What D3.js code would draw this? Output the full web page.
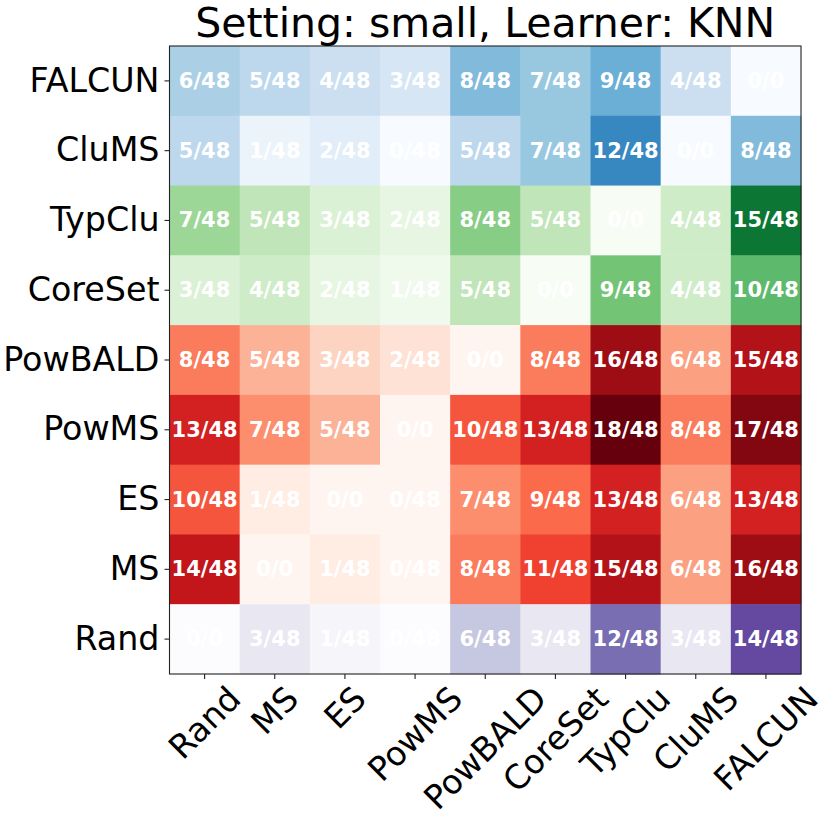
<!DOCTYPE html>
<html>
<head>
<meta charset="utf-8">
<script src="https://cdn.jsdelivr.net/npm/d3@7"></script>
<style>
  html, body { margin: 0; padding: 0; background: #fff; }
  svg { display: block; }
</style>
</head>
<body>
<svg id="chart" width="830" height="821"></svg>
<script>
// ---- data ----
const title = "Setting: small, Learner: KNN";
const rowLabels = ["FALCUN", "CluMS", "TypClu", "CoreSet", "PowBALD", "PowMS", "ES", "MS", "Rand"];
const colLabels = ["Rand", "MS", "ES", "PowMS", "PowBALD", "CoreSet", "TypClu", "CluMS", "FALCUN"];
const rowColormaps = ["Blues", "Blues", "Greens", "Greens", "Reds", "Reds", "Reds", "Reds", "Purples"];
const wins = [
  [6, 5, 4, 3, 8, 7, 9, 4, 0],
  [5, 1, 2, 0, 5, 7, 12, 0, 8],
  [7, 5, 3, 2, 8, 5, 0, 4, 15],
  [3, 4, 2, 1, 5, 0, 9, 4, 10],
  [8, 5, 3, 2, 0, 8, 16, 6, 15],
  [13, 7, 5, 0, 10, 13, 18, 8, 17],
  [10, 1, 0, 0, 7, 9, 13, 6, 13],
  [14, 0, 1, 0, 8, 11, 15, 6, 16],
  [0, 3, 1, 0, 6, 3, 12, 3, 14]
];
const totals = [
  [48, 48, 48, 48, 48, 48, 48, 48, 0],
  [48, 48, 48, 48, 48, 48, 48, 0, 48],
  [48, 48, 48, 48, 48, 48, 0, 48, 48],
  [48, 48, 48, 48, 48, 0, 48, 48, 48],
  [48, 48, 48, 48, 0, 48, 48, 48, 48],
  [48, 48, 48, 0, 48, 48, 48, 48, 48],
  [48, 48, 0, 48, 48, 48, 48, 48, 48],
  [48, 0, 48, 48, 48, 48, 48, 48, 48],
  [0, 48, 48, 48, 48, 48, 48, 48, 48]
];

// ColorBrewer 9-class sequential palettes (linearly interpolated, as matplotlib does)
const palettes = {
  Blues:   ["#f7fbff","#deebf7","#c6dbef","#9ecae1","#6baed6","#4292c6","#2171b5","#08519c","#08306b"],
  Greens:  ["#f7fcf5","#e5f5e0","#c7e9c0","#a1d99b","#74c476","#41ab5d","#238b45","#006d2c","#00441b"],
  Reds:    ["#fff5f0","#fee0d2","#fcbba1","#fc9272","#fb6a4a","#ef3b2c","#cb181d","#a50f15","#67000d"],
  Purples: ["#fcfbfd","#efedf5","#dadaeb","#bcbddc","#9e9ac8","#807dba","#6a51a3","#54278f","#3f007d"]
};

// ---- layout ----
const svg = d3.select("#chart");
const plotL = 169.5, plotR = 801, plotT = 46, plotB = 674;
const font = "'DejaVu Sans', sans-serif";
const labelSize = 33.3, cellSize = 21, titleSize = 41;

const x = d3.scaleBand().domain(colLabels).range([plotL, plotR]).padding(0);
const y = d3.scaleBand().domain(rowLabels).range([plotT, plotB]).padding(0);

const vmax = d3.max(wins.flat());
const cmaps = {};
Object.keys(palettes).forEach(k => {
  const p = palettes[k];
  cmaps[k] = d3.scaleLinear()
    .domain(d3.range(p.length).map(i => i / (p.length - 1) * vmax))
    .range(p)
    .interpolate(d3.interpolateRgb)
    .clamp(true);
});

const cells = [];
rowLabels.forEach((r, i) => colLabels.forEach((c, j) => {
  cells.push({ r, c, v: wins[i][j], t: totals[i][j], cmap: rowColormaps[i] });
}));

const g = svg.append("g");
g.selectAll("rect.cell").data(cells).join("rect")
  .attr("class", "cell")
  .attr("x", d => x(d.c))
  .attr("y", d => y(d.r))
  .attr("width", x.bandwidth() + 0.5)
  .attr("height", y.bandwidth() + 0.5)
  .attr("fill", d => cmaps[d.cmap](d.v));

g.selectAll("text.val").data(cells).join("text")
  .attr("class", "val")
  .attr("x", d => x(d.c) + x.bandwidth() / 2)
  .attr("y", d => y(d.r) + y.bandwidth() / 2)
  .attr("text-anchor", "middle")
  .attr("dominant-baseline", "central")
  .attr("font-family", font)
  .attr("font-weight", "bold")
  .attr("font-size", cellSize)
  .attr("fill", "#ffffff")
  .text(d => `${d.v}/${d.t}`);

// frame
svg.append("rect")
  .attr("x", plotL).attr("y", plotT)
  .attr("width", plotR - plotL).attr("height", plotB - plotT)
  .attr("fill", "none").attr("stroke", "#222").attr("stroke-width", 1.1);

// y axis
const yAxis = d3.axisLeft(y).tickSize(5).tickPadding(5);
const ya = svg.append("g").attr("transform", `translate(${plotL},0)`).call(yAxis);
ya.select(".domain").remove();
ya.selectAll(".tick line").attr("stroke", "#222").attr("stroke-width", 1.1);
ya.selectAll(".tick text")
  .attr("font-family", font).attr("font-size", labelSize).attr("fill", "#000");

// x axis
const xAxis = d3.axisBottom(x).tickSize(5).tickPadding(5);
const xa = svg.append("g").attr("transform", `translate(0,${plotB})`).call(xAxis);
xa.select(".domain").remove();
xa.selectAll(".tick line").attr("stroke", "#222").attr("stroke-width", 1.1);
xa.selectAll(".tick text")
  .attr("font-family", font).attr("font-size", labelSize).attr("fill", "#000")
  .attr("text-anchor", "middle")
  .attr("dominant-baseline", "central")
  .attr("dy", null)
  .each(function() {
    const w = this.getComputedTextLength();
    const h = labelSize * 1.0;
    const half = (w + h) / (2 * Math.SQRT2);
    const cy = 7 + half;
    d3.select(this).attr("y", 0).attr("transform", `translate(0,${cy}) rotate(-45)`);
  });

// title
svg.append("text")
  .attr("x", (plotL + plotR) / 2)
  .attr("y", 37)
  .attr("text-anchor", "middle")
  .attr("font-family", font)
  .attr("font-size", titleSize)
  .attr("fill", "#000")
  .text(title);
</script>
</body>
</html>
